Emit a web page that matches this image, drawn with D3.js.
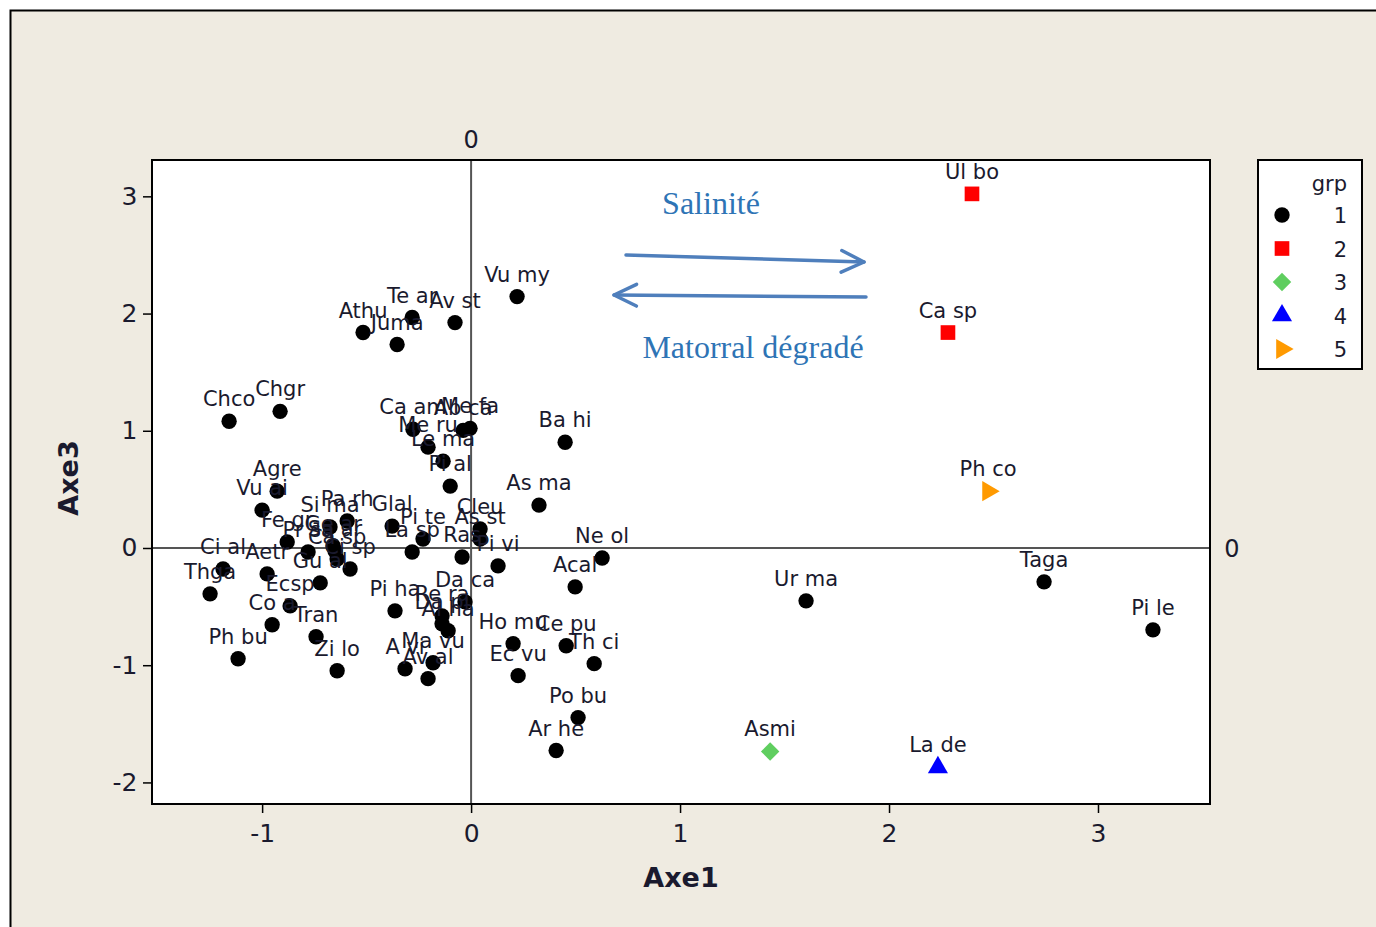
<!DOCTYPE html>
<html>
<head>
<meta charset="utf-8">
<script src="https://cdn.jsdelivr.net/npm/d3@7/dist/d3.min.js"></script>
<style>
  html, body { margin: 0; padding: 0; background: #ffffff; }
  svg { display: block; }
</style>
</head>
<body>
<svg id="chart" width="1376" height="927"></svg>
<script>
// Species scores on axes 1 and 3, with their group
const species = ["Vu my","Av st","Te ar","Athu","Juma","Chco","Chgr","Agre","Vu ai","Pa rh",
  "Si ma","Fe gr","Pr sa","Ge ar","Sa ar","Ca sp","Ci sp","Ci al","Thga","Aetr",
  "Gu al","Ecsp","Co a","Tran","Ph bu","Zi lo","Ca am","Ab ca","Me fa","Me ru",
  "Le ma","Pi al","Ba hi","As ma","Glal","Pi te","La sp","Ras","Cleu","As st",
  "Pi vi","Ne ol","Acal","Da ca","Pi ha","Re ra","Da pi","Al ha","A vi","Ma vu",
  "Av al","Ho mu","Ec vu","Ce pu","Th ci","Po bu","Ar he","Ur ma","Taga","Pi le",
  "Ul bo","Ca sp","Asmi","La de","Ph co"];
const axe1 = [0.22,-0.077,-0.282,-0.517,-0.354,-1.158,-0.914,-0.928,-1.0,-0.593,
  -0.675,-0.88,-0.78,-0.66,-0.651,-0.641,-0.579,-1.187,-1.249,-0.976,
  -0.722,-0.866,-0.952,-0.742,-1.115,-0.641,-0.278,-0.038,-0.005,-0.206,
  -0.134,-0.1,0.45,0.325,-0.378,-0.23,-0.282,-0.043,0.043,0.043,
  0.129,0.627,0.498,-0.029,-0.364,-0.139,-0.139,-0.11,-0.316,-0.182,
  -0.206,0.201,0.225,0.455,0.589,0.512,0.407,1.603,2.742,3.263,
  2.397,2.282,1.431,2.234,2.474];
const axe3 = [2.145,1.923,1.966,1.838,1.736,1.081,1.166,0.485,0.323,0.23,
  0.179,0.051,-0.034,0.017,-0.026,-0.094,-0.179,-0.179,-0.391,-0.221,
  -0.298,-0.494,-0.655,-0.757,-0.945,-1.047,1.013,1.004,1.021,0.86,
  0.74,0.528,0.902,0.366,0.187,0.077,-0.034,-0.077,0.162,0.077,
  -0.153,-0.085,-0.332,-0.46,-0.536,-0.579,-0.647,-0.706,-1.03,-0.979,
  -1.115,-0.817,-1.089,-0.834,-0.987,-1.447,-1.728,-0.451,-0.289,-0.698,
  3.021,1.838,-1.736,-1.872,0.485];
const grp = [1,1,1,1,1,1,1,1,1,1, 1,1,1,1,1,1,1,1,1,1, 1,1,1,1,1,1,1,1,1,1,
  1,1,1,1,1,1,1,1,1,1, 1,1,1,1,1,1,1,1,1,1, 1,1,1,1,1,1,1,1,1,1,
  2,2,3,4,5];

// Axis ticks and legend groups
const xTicks = [-1, 0, 1, 2, 3];
const yTicks = [-2, -1, 0, 1, 2, 3];
const groups = [1, 2, 3, 4, 5];
const groupColors = ["#000000", "#ff0000", "#5fce5f", "#0000ff", "#ff9a00"];

const svg = d3.select("#chart");
const labelFont = "'DejaVu Sans', Verdana, sans-serif";
const inkColor = "#1a1a2e";

// Beige panel with its frame
svg.append("rect").attr("x", 0).attr("y", 0).attr("width", 1376).attr("height", 927).attr("fill", "#ffffff");
svg.append("rect").attr("x", 10.5).attr("y", 10.5).attr("width", 1400).attr("height", 1000)
  .attr("fill", "#efebe1").attr("stroke", "#000").attr("stroke-width", 2);

const plot = { left: 152, right: 1210, top: 160, bottom: 804 };
const x = d3.scaleLinear().domain([-1.527, 3.536]).range([plot.left, plot.right]);
const y = d3.scaleLinear().domain([-2.184, 3.31]).range([plot.bottom, plot.top]);

svg.append("rect").attr("x", plot.left).attr("y", plot.top)
  .attr("width", plot.right - plot.left).attr("height", plot.bottom - plot.top)
  .attr("fill", "#ffffff");

// Reference lines at zero
svg.append("line").attr("x1", x(0)).attr("x2", x(0)).attr("y1", plot.top).attr("y2", plot.bottom)
  .attr("stroke", "#555").attr("stroke-width", 2);
svg.append("line").attr("x1", plot.left).attr("x2", plot.right).attr("y1", y(0)).attr("y2", y(0))
  .attr("stroke", "#555").attr("stroke-width", 2);
svg.append("text").attr("x", x(0)).attr("y", 148).attr("text-anchor", "middle")
  .attr("font-family", labelFont).attr("font-size", 24).attr("fill", inkColor).text("0");
svg.append("text").attr("x", 1232).attr("y", y(0) + 9).attr("text-anchor", "middle")
  .attr("font-family", labelFont).attr("font-size", 24).attr("fill", inkColor).text("0");

// Axes
const xAxis = svg.append("g").attr("transform", `translate(0,${plot.bottom})`)
  .call(d3.axisBottom(x).tickValues(xTicks).tickFormat(d => String(d)).tickSize(9).tickSizeOuter(0));
const yAxis = svg.append("g").attr("transform", `translate(${plot.left},0)`)
  .call(d3.axisLeft(y).tickValues(yTicks).tickFormat(d => String(d)).tickSize(9).tickSizeOuter(0));
[xAxis, yAxis].forEach(g => {
  g.select(".domain").remove();
  g.selectAll(".tick line").attr("stroke", "#000").attr("stroke-width", 1.5);
  g.selectAll(".tick text").attr("font-family", labelFont).attr("font-size", 25).attr("fill", inkColor);
});
xAxis.selectAll(".tick text").attr("dy", "1.05em");
yAxis.selectAll(".tick text").attr("dx", "-0.1em");

svg.append("rect").attr("x", plot.left).attr("y", plot.top)
  .attr("width", plot.right - plot.left).attr("height", plot.bottom - plot.top)
  .attr("fill", "none").attr("stroke", "#000").attr("stroke-width", 2);

svg.append("text").attr("x", (plot.left + plot.right) / 2).attr("y", 887).attr("text-anchor", "middle")
  .attr("font-family", labelFont).attr("font-weight", "bold").attr("font-size", 27).attr("fill", inkColor).text("Axe1");
svg.append("text").attr("transform", `translate(78,${(plot.top + plot.bottom) / 2 - 4}) rotate(-90)`)
  .attr("text-anchor", "middle").attr("font-family", labelFont).attr("font-weight", "bold")
  .attr("font-size", 27).attr("fill", inkColor).text("Axe3");

// Marker shapes per group
const squareDiamond = { draw(ctx, size) { const r = Math.sqrt(size / 2); ctx.moveTo(0, -r); ctx.lineTo(r, 0); ctx.lineTo(0, r); ctx.lineTo(-r, 0); ctx.closePath(); } };
function markerPath(g) {
  if (g === 1) return d3.symbol(d3.symbolCircle, 185)();
  if (g === 2) return d3.symbol(d3.symbolSquare, 215)();
  if (g === 3) return d3.symbol(squareDiamond, 170)();
  return d3.symbol(d3.symbolTriangle, 175)();
}
function markerTransform(g, px, py) {
  return g === 5 ? `translate(${px},${py}) rotate(90)` : `translate(${px},${py})`;
}

const pts = species.map((s, i) => ({ name: s, a1: axe1[i], a3: axe3[i], g: grp[i] }));

svg.append("g").selectAll("path").data(pts).join("path")
  .attr("d", d => markerPath(d.g))
  .attr("transform", d => markerTransform(d.g, x(d.a1), y(d.a3)))
  .attr("fill", d => groupColors[d.g - 1]);

svg.append("g").selectAll("text").data(pts).join("text")
  .attr("x", d => x(d.a1)).attr("y", d => y(d.a3) - 15)
  .attr("text-anchor", "middle").attr("font-family", labelFont).attr("font-size", 21)
  .attr("fill", inkColor).text(d => d.name);

// Legend
const lg = svg.append("g");
lg.append("rect").attr("x", 1258).attr("y", 160).attr("width", 104).attr("height", 209)
  .attr("fill", "#ffffff").attr("stroke", "#000").attr("stroke-width", 2);
lg.append("text").attr("x", 1347).attr("y", 191).attr("text-anchor", "end")
  .attr("font-family", labelFont).attr("font-size", 21).attr("fill", inkColor).text("grp");
groups.forEach((g, i) => {
  const cy = 215 + i * 33.5;
  lg.append("path").attr("d", markerPath(g)).attr("transform", markerTransform(g, 1282, cy))
    .attr("fill", groupColors[g - 1]);
  lg.append("text").attr("x", 1347).attr("y", cy + 8).attr("text-anchor", "end")
    .attr("font-family", labelFont).attr("font-size", 21).attr("fill", inkColor).text(g);
});

// Gradient annotation: two opposite arrows
const arrowColor = "#4f7fbc";
function arrow(x1, y1, x2, y2) {
  const g = svg.append("g").attr("stroke", arrowColor).attr("stroke-width", 3.5)
    .attr("fill", "none").attr("stroke-linecap", "round").attr("stroke-linejoin", "round");
  g.append("line").attr("x1", x1).attr("y1", y1).attr("x2", x2).attr("y2", y2);
  const ang = Math.atan2(y2 - y1, x2 - x1);
  const len = 25, spread = 0.45;
  const p1 = [x2 - len * Math.cos(ang - spread), y2 - len * Math.sin(ang - spread)];
  const p2 = [x2 - len * Math.cos(ang + spread), y2 - len * Math.sin(ang + spread)];
  g.append("path").attr("d", `M${p1[0]},${p1[1]} L${x2},${y2} L${p2[0]},${p2[1]}`);
}
arrow(626, 255, 864, 262);
arrow(866, 297, 614, 295);

svg.append("text").attr("x", 711).attr("y", 214).attr("text-anchor", "middle")
  .attr("font-family", "'Liberation Serif', 'Times New Roman', serif").attr("font-size", 32)
  .attr("fill", "#2e74b5").text("Salinité");
svg.append("text").attr("x", 753).attr("y", 358).attr("text-anchor", "middle")
  .attr("font-family", "'Liberation Serif', 'Times New Roman', serif").attr("font-size", 32)
  .attr("fill", "#2e74b5").text("Matorral dégradé");
</script>
</body>
</html>
